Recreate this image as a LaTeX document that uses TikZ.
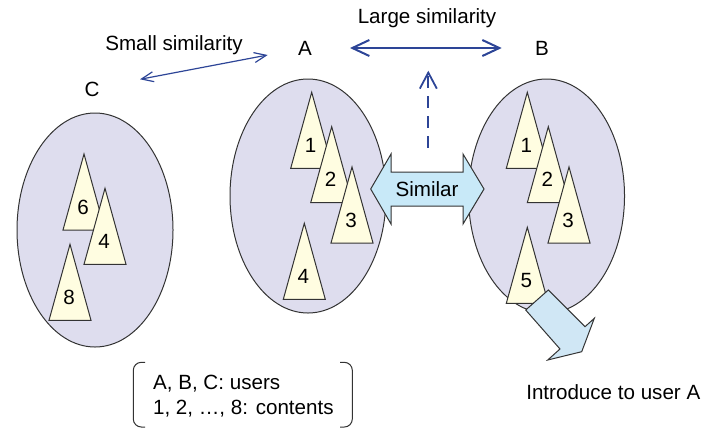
\documentclass[tikz,border=0pt]{standalone}
\usepackage{fontspec}
\setmainfont{Liberation Sans}
\usetikzlibrary{arrows.meta,shapes.geometric}
\definecolor{userfill}{HTML}{DEDDEE}
\definecolor{itemfill}{HTML}{FFFDE1}
\definecolor{simfill}{HTML}{C8E9F8}
\definecolor{introfill}{HTML}{D0E7F5}
\definecolor{linkblue}{HTML}{2D4597}
\definecolor{edge}{HTML}{333333}

\begin{document}
\begin{tikzpicture}[x=0.5pt,y=-0.5pt,
  font=\fontsize{10.3}{12.5}\selectfont,
  user/.style={ellipse,draw=edge,fill=userfill,line width=0.5pt,
    minimum width=78pt,minimum height=117pt,inner sep=0pt},
  item/.style={draw=edge,fill=itemfill,line width=0.5pt},
  bigarrow/.style={draw=edge,line width=0.5pt}]

\useasboundingbox (0,0) rectangle (704,429);

% users
\node[user] (C) at (95,230) {};
\node[user] (A) at (308,196) {};
\node[user] (B) at (546.5,196) {};

\node (labC) at (92,89) {C};
\node (labA) at (305,48) {A};
\node (labB) at (542,48) {B};

% contents
\foreach \g/\x/\y/\l in {c/84/154/6, c/105/188.3/4, c/70/244.3/8,
  a/311.7/92.3/1, a/331.7/126.7/2, a/352/167/3, a/304.3/223.3/4,
  b/527.3/92.3/1, b/548.3/126.7/2, b/569/167/3, b/527.3/227.3/5}
{
\draw[item] (\x,\y) -- ++(-21,76) -- ++(42,0) -- cycle;
\node (\g\l) at (\x-1,\y+53) {\l};
}

% similarity between A and B
\draw[bigarrow,fill=simfill] (370.7,189) -- (391,154) -- (391,172) -- (463,172)
  -- (463,154) -- (484,189) -- (463,224) -- (463,206) -- (391,206)
  -- (391,224) -- cycle;
\node (sim) at (427,189) {Similar};

% recommendation
\draw[bigarrow,fill=introfill] (548.3,290) -- (585,326.7) -- (594.3,318.3)
  -- (581.7,351.7) -- (547.7,360) -- (560,349) -- (525.7,310) -- cycle;
\node (intro) at (613.3,391.7) {Introduce to user A};

% similarity arrows
\coordinate (s1) at (140,79.3);
\coordinate (s2) at (267.7,55);
\draw[linkblue,line width=0.6pt,{Straight Barb[length=6pt,width=5pt]}-{Straight Barb[length=6pt,width=5pt]}] (s1) -- (s2);
\node (small) at (174,45) {Small similarity};

\coordinate (l1) at (350,48);
\coordinate (l2) at (501.7,48);
\draw[linkblue,line width=1pt,{Straight Barb[length=8.5pt,width=8pt]}-{Straight Barb[length=8.5pt,width=8pt]}] (l1) -- (l2);
\node (large) at (427,18) {Large similarity};

\coordinate (d1) at (428.3,147.7);
\coordinate (d2) at (428.3,70.7);
\draw[linkblue,line width=0.9pt,dash pattern=on 6pt off 4pt,-{Straight Barb[length=8pt,width=8.5pt]}] (d1) -- (d2);

% key
\draw[edge,line width=0.5pt,rounded corners=4pt] (145,362.3) -- (133.3,362.3) -- (133.3,427) -- (145,427);
\draw[edge,line width=0.5pt,rounded corners=4pt] (340,362.3) -- (352.3,362.3) -- (352.3,427) -- (340,427);
\node[anchor=west,align=left,inner sep=0pt] (key) at (152.7,395.8) {A, B, C: users\\1, 2, …, 8: contents};

\end{tikzpicture}
\end{document}
